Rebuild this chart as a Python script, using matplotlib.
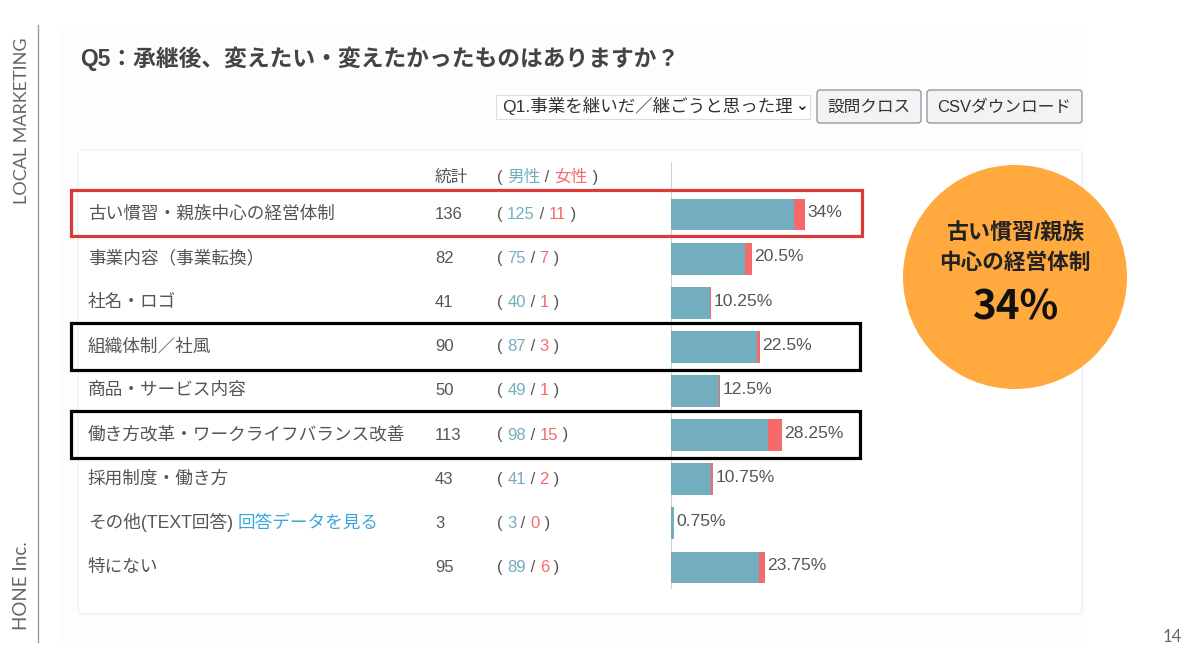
"""Q5 survey slide: stacked bars of male/female answer counts with table columns."""
import matplotlib

matplotlib.use("Agg")
import matplotlib.pyplot as plt
from matplotlib.patches import Circle, FancyBboxPatch, Rectangle

plt.rcParams["font.family"] = ["Liberation Sans", "Noto Sans CJK JP", "DejaVu Sans"]

categories = [
    "古い慣習・親族中心の経営体制",
    "事業内容（事業転換）",
    "社名・ロゴ",
    "組織体制／社風",
    "商品・サービス内容",
    "働き方改革・ワークライフバランス改善",
    "採用制度・働き方",
    "その他(TEXT回答)",
    "特にない",
]
totals = [136, 82, 41, 90, 50, 113, 43, 3, 95]
male = [125, 75, 40, 87, 49, 98, 41, 3, 89]
female = [11, 7, 1, 3, 1, 15, 2, 0, 6]
percents = ["34%", "20.5%", "10.25%", "22.5%", "12.5%", "28.25%", "10.75%", "0.75%", "23.75%"]

TEAL = "#73aebf"
RED = "#f56b6b"
TEXT = "#555555"
ROW0, ROW_H = 213, 44.1

fig = plt.figure(figsize=(12, 6.68), dpi=100, facecolor="white")
bg = fig.add_axes([0, 0, 1, 1])
bg.set_xlim(0, 1200)
bg.set_ylim(668, 0)
bg.axis("off")

# slide chrome
bg.add_patch(Rectangle((60, 25), 1026, 618, fc="#fdfcfe", ec="none"))
bg.add_patch(FancyBboxPatch((78, 150), 1004, 464, boxstyle="round,pad=0,rounding_size=6",
                            fc="white", ec="#f4f3f6", lw=1.5))
bg.plot([38, 38], [25, 642], color="#9a9a9a", lw=1)
bg.text(22, 121, "LOCAL MARKETING", family="Lato", rotation=90, fontsize=13,
        color="#666666", ha="center", va="center")
bg.text(22, 586, "HONE Inc.", family="Lato", rotation=90, fontsize=13.5,
        color="#666666", ha="center", va="center")
bg.text(1172, 637, "14", family="Lato", fontsize=12, color="#666666", ha="center", va="center")

bg.text(80, 66, "Q5：承継後、変えたい・変えたかったものはありますか？", fontsize=16.4,
        fontweight="bold", color="#444444", va="baseline")

# select box and buttons
bg.add_patch(Rectangle((496, 95), 314, 24, fc="white", ec="#dcdce2", lw=0.8))
bg.text(502, 112, "Q1.事業を継いだ／継ごうと思った理", fontsize=12.6, color="#333333",
        va="baseline", clip_on=True, clip_path=Rectangle((496, 90), 296, 34, transform=bg.transData))
bg.text(801, 105, "⌄", fontsize=11, color="#222222", ha="center", va="center",
        family="DejaVu Sans", fontweight="bold")
for x0, x1, label in [(817, 921, "設問クロス"), (927, 1082, "CSVダウンロード")]:
    bg.add_patch(FancyBboxPatch((x0, 90), x1 - x0, 33, boxstyle="round,pad=0,rounding_size=3",
                                fc="#f3f2f5", ec="#8e8e93", lw=0.9))
    bg.text((x0 + x1) / 2, 112, label, fontsize=12, color="#333333", ha="center", va="baseline")


def text_run(x, y, parts, size=12):
    # lay coloured pieces side by side, measuring each one
    renderer = fig.canvas.get_renderer()
    for s, color in parts:
        t = bg.text(x, y, s, fontsize=size, color=color, va="baseline")
        x += t.get_window_extent(renderer).width


# table columns
bg.text(435, 182, "統計", fontsize=12, color=TEXT, va="baseline")
text_run(497, 182, [("( ", TEXT), ("男性", TEAL), (" / ", TEXT), ("女性", RED), (" )", TEXT)])
for i, name in enumerate(categories):
    y = ROW0 + ROW_H * i
    bg.text(88, y + 6, name, fontsize=12.7, color=TEXT, va="baseline")
    bg.text(435, y + 6, str(totals[i]), fontsize=12, color=TEXT, va="baseline")
    text_run(497, y + 6, [("( ", TEXT), (str(male[i]), TEAL), (" / ", TEXT),
                          (str(female[i]), RED), (" )", TEXT)])
bg.text(238, ROW0 + ROW_H * 7 + 6, "回答データを見る", fontsize=12.7, color="#3ba7d9", va="baseline")

# stacked bars, 400 answers = full scale
chart = fig.add_axes([671 / 1200, 1 - 589.5 / 668, 200 / 1200, 397 / 668])
chart.patch.set_alpha(0)
rows = list(range(len(categories)))
chart.barh(rows, male, height=0.72, color=TEAL)
chart.barh(rows, female, left=male, height=0.72, color=RED)
chart.set_xlim(0, 200 * 400 / 394)
chart.set_ylim(8.5, -0.5)
chart.axis("off")
for i, pct in enumerate(percents):
    chart.annotate(pct, (male[i] + female[i], i), xytext=(1.5, -2), textcoords="offset points",
                   fontsize=12.6, color=TEXT, va="baseline")
bg.plot([671, 671], [162, 588], color="#cfcfd4", lw=0.8)

# highlight frames
bg.add_patch(Rectangle((71, 190), 791, 46, fc="none", ec="#dc3a3a", lw=2.3, zorder=5))
bg.add_patch(Rectangle((71, 323), 789, 47, fc="none", ec="black", lw=2.3, zorder=5))
bg.add_patch(Rectangle((71, 411), 789, 47, fc="none", ec="black", lw=2.3, zorder=5))

# callout
bg.add_patch(Circle((1015, 277), 112, fc="#ffa93f", ec="none"))
bg.text(1015, 239, "古い慣習/親族", fontsize=15.8, fontweight="bold", color="#222222",
        ha="center", va="baseline")
bg.text(1015, 269, "中心の経営体制", fontsize=15.6, fontweight="bold", color="#222222",
        ha="center", va="baseline")
bg.text(1015, 320, "34%", family=["Noto Sans CJK JP"], fontsize=29, fontweight="bold",
        color="#111111", ha="center", va="baseline")

fig.savefig("out.png", dpi=100)
plt.close(fig)
